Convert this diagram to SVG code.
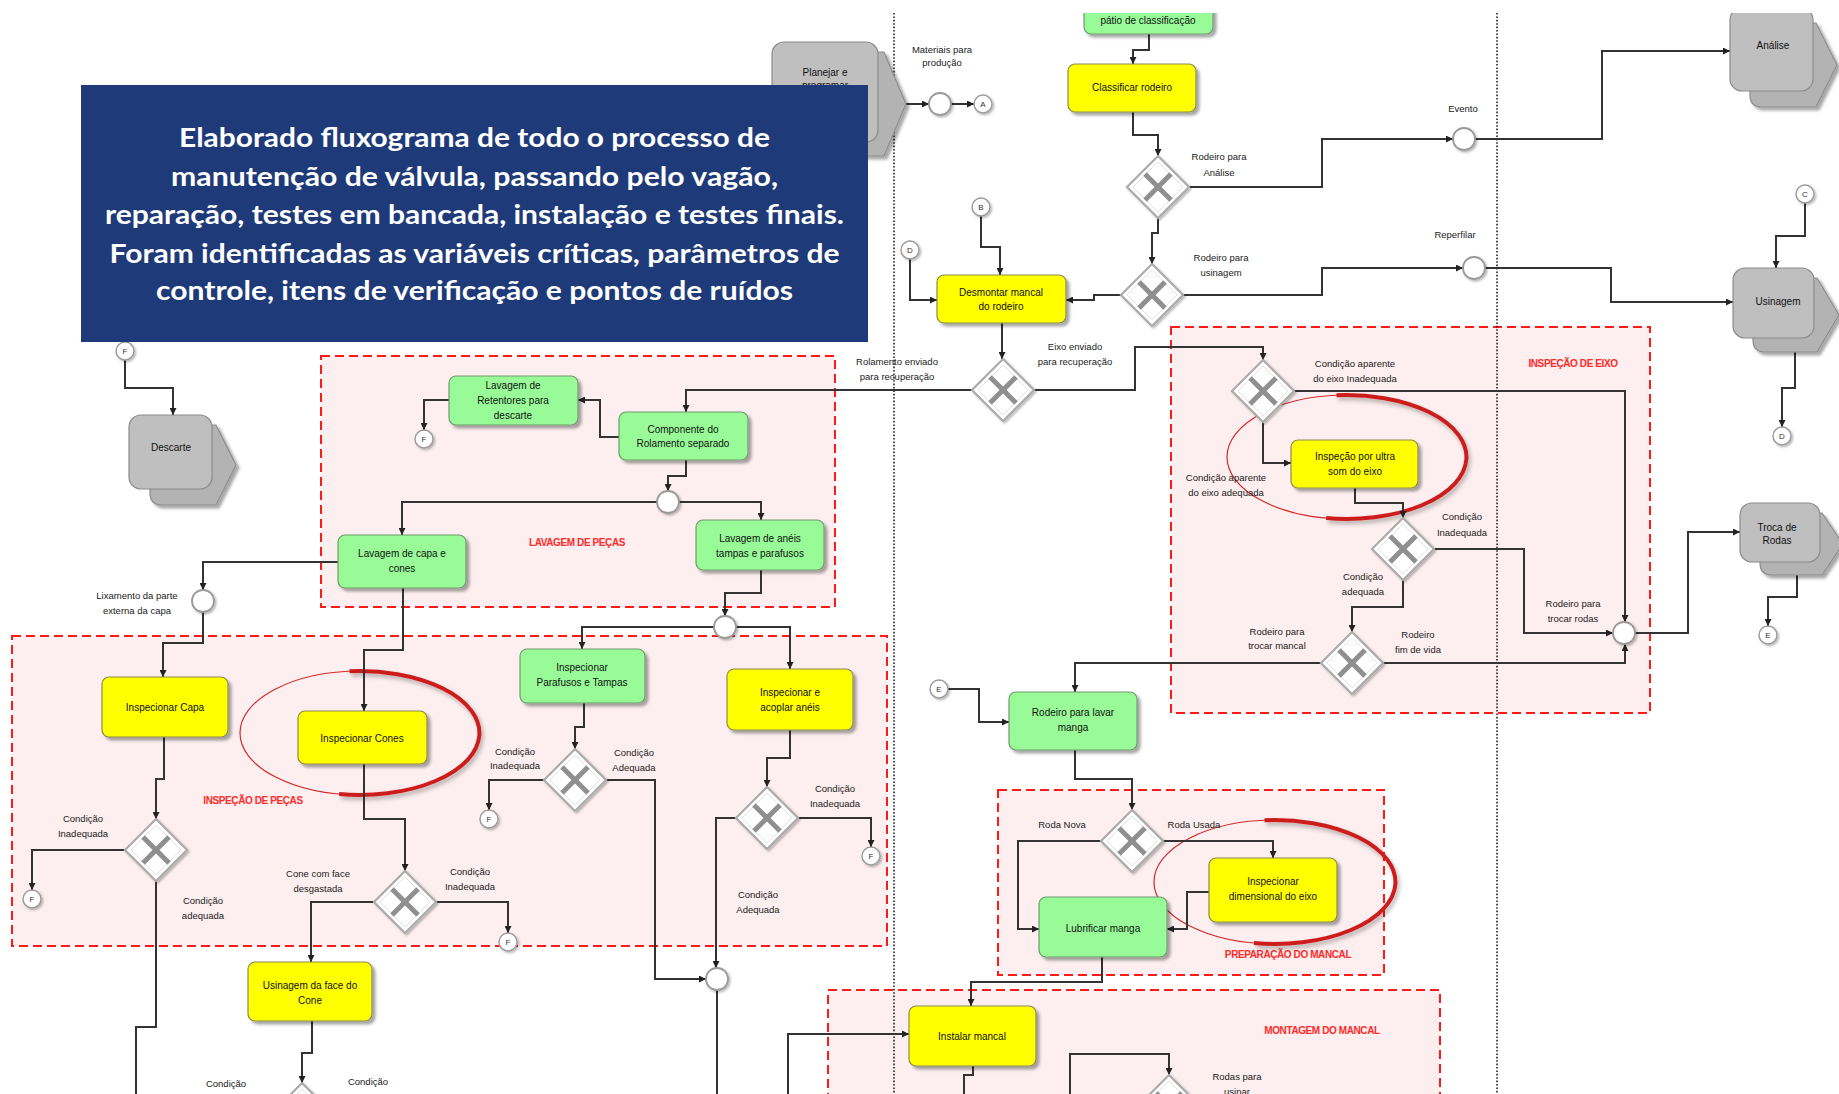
<svg xmlns="http://www.w3.org/2000/svg" xmlns:xlink="http://www.w3.org/1999/xlink" width="1839" height="1094" viewBox="0 0 1839 1094">
<style>
text{font-family:"Liberation Sans",Arial,sans-serif;}
.t{font-size:10px;fill:#111;text-anchor:middle;}
.lb{font-size:9.5px;fill:#222;text-anchor:middle;}
.lt{font-size:8px;fill:#333;text-anchor:middle;}
.rg{fill:#fdefef;stroke:#ff1a1a;stroke-width:2;stroke-dasharray:9 5;}
.rl{font-size:10px;font-weight:bold;fill:#ff2a2a;text-anchor:middle;letter-spacing:-0.4px;}
.y{fill:#ffff00;stroke:#8a8a50;stroke-width:1.2;filter:url(#sh);}
.g{fill:#98fb98;stroke:#6f9a6f;stroke-width:1.2;filter:url(#sh);}
.pf{fill:#bfbfbf;stroke:#8c8c8c;stroke-width:1.2;}
.pb{fill:#b3b3b3;stroke:#8c8c8c;stroke-width:1.2;}
.ev{fill:#fff;stroke:#9a9a9a;stroke-width:1.8;filter:url(#sh2);}
.lc{fill:#fff;stroke:#9a9a9a;stroke-width:1.4;filter:url(#sh2);}
.c{fill:none;stroke:#333;stroke-width:2;marker-end:url(#ar);}
.cn{fill:none;stroke:#333;stroke-width:2;}
.dl{stroke:#222;stroke-width:1.6;stroke-dasharray:1.6 1.8;}
.el{fill:none;stroke:#d42a2a;stroke-width:1.2;}
.et{fill:none;stroke:#cc1f1f;stroke-width:4;filter:url(#sh3);}
.bt{font-family:Lato,"Open Sans",sans-serif;font-weight:bold;font-size:26px;fill:#fff;text-anchor:middle;}
</style>
<defs>
<filter id="sh" x="-20%" y="-20%" width="150%" height="150%"><feDropShadow dx="3" dy="3" stdDeviation="1.6" flood-color="#000" flood-opacity="0.35"/></filter>
<filter id="sh2" x="-30%" y="-30%" width="170%" height="170%"><feDropShadow dx="1.5" dy="1.5" stdDeviation="1" flood-color="#000" flood-opacity="0.3"/></filter>
<filter id="sh3" x="-10%" y="-10%" width="130%" height="130%"><feDropShadow dx="2" dy="3" stdDeviation="2" flood-color="#000" flood-opacity="0.3"/></filter>
<marker id="ar" markerUnits="userSpaceOnUse" markerWidth="8" markerHeight="7" refX="7" refY="3.5" orient="auto"><path d="M0,0 L7,3.5 L0,7 z" fill="#222"/></marker>
<g id="gw">
<polygon points="0,-31 31,0 0,31 -31,0" fill="#fff" stroke="#ababab" stroke-width="2.2" filter="url(#sh2)"/>
<polygon points="0,-25 25,0 0,25 -25,0" fill="none" stroke="#e2e2e2" stroke-width="1"/>
<line x1="-13" y1="-13" x2="13" y2="13" stroke="#8f8f8f" stroke-width="5"/>
<line x1="13" y1="-13" x2="-13" y2="13" stroke="#8f8f8f" stroke-width="5"/>
</g>
</defs>
<rect width="1839" height="1094" fill="#fff"/>

<g id="regions">
<rect class="rg" x="321" y="356" width="514" height="251"/>
<rect class="rg" x="12" y="636" width="875" height="310"/>
<rect class="rg" x="1171" y="327" width="479" height="386"/>
<rect class="rg" x="998" y="790" width="386" height="185"/>
<rect class="rg" x="828" y="990" width="612" height="130"/>
<text class="rl" x="577" y="546">LAVAGEM DE PEÇAS</text>
<text class="rl" x="253" y="804">INSPEÇÃO DE PEÇAS</text>
<text class="rl" x="1573" y="367">INSPEÇÃO DE EIXO</text>
<text class="rl" x="1288" y="958">PREPARAÇÃO DO MANCAL</text>
<text class="rl" x="1322" y="1034">MONTAGEM DO MANCAL</text>
</g>

<g id="lanes">
<line class="dl" x1="894" y1="13" x2="894" y2="1094"/>
<line class="dl" x1="1497" y1="13" x2="1497" y2="1094"/>
</g>

<g id="highlights">
<ellipse class="el" cx="360" cy="733" rx="120" ry="62"/>
<path class="et" d="M349.5,671.2 A120,62 0 1 1 339.2,794.1"/>
<ellipse class="el" cx="1347" cy="457" rx="120" ry="62"/>
<path class="et" d="M1336.5,395.2 A120,62 0 1 1 1326.2,518.1"/>
<ellipse class="el" cx="1275" cy="882" rx="121" ry="62"/>
<path class="et" d="M1264.5,820.2 A121,62 0 1 1 1254,943.1"/>
</g>

<g id="connectors">
<path class="c" d="M906,104 H929"/>
<path class="c" d="M951,104 H974"/>
<path class="c" d="M1149,34 V50 H1133 V64"/>
<path class="c" d="M1133,112 V135 H1158 V156"/>
<path class="c" d="M1189,187 H1322 V139 H1453"/>
<path class="c" d="M1475,139 H1602 V51 H1730"/>
<path class="c" d="M1158,218 V233 H1152 V264"/>
<path class="c" d="M1183,295 H1322 V268 H1463"/>
<path class="c" d="M1485,268 H1611 V302 H1733"/>
<path class="c" d="M1805,203 V236 H1776 V268"/>
<path class="c" d="M1795,352 V388 H1782 V427"/>
<path class="c" d="M1121,295 H1094 V300 H1066"/>
<path class="c" d="M981,216 V247 H1000 V275"/>
<path class="c" d="M910,259 V300 H937"/>
<path class="c" d="M1002,323 V359"/>
<path class="c" d="M972,390 H686 V412"/>
<path class="c" d="M1034,390 H1135 V347 H1263 V360"/>
<path class="c" d="M1294,391 H1625 V622"/>
<path class="c" d="M1263,422 V463 H1291"/>
<path class="c" d="M1355,488 V503 H1403 V518"/>
<path class="c" d="M1434,549 H1524 V633 H1613"/>
<path class="c" d="M1403,580 V607 H1352 V632"/>
<path class="c" d="M1383,663 H1625 V644"/>
<path class="c" d="M1321,663 H1075 V692"/>
<path class="c" d="M1635,633 H1688 V532 H1740"/>
<path class="c" d="M1797,575 V597 H1768 V626"/>
<path class="c" d="M948,689 H979 V722 H1009"/>
<path class="c" d="M1075,750 V779 H1132 V810"/>
<path class="c" d="M1101,841 H1018 V929 H1039"/>
<path class="c" d="M1163,841 H1273 V858"/>
<path class="c" d="M1209,892 H1187 V929 H1167"/>
<path class="c" d="M1102,957 V982 H971 V1006"/>
<path class="c" d="M788,1094 V1034 H909"/>
<path class="cn" d="M973,1066 V1075 H964 V1094"/>
<path class="c" d="M1070,1094 V1054 H1169 V1075"/>
<path class="c" d="M125,360 V388 H173 V415"/>
<path class="c" d="M619,437 H600 V400 H578"/>
<path class="c" d="M449,400 H424 V430"/>
<path class="c" d="M686,460 V476 H668 V491"/>
<path class="c" d="M657,502 H402 V535"/>
<path class="c" d="M679,502 H761 V520"/>
<path class="c" d="M338,562 H203 V590"/>
<path class="c" d="M203,612 V643 H163 V677"/>
<path class="c" d="M164,737 V779 H156 V819"/>
<path class="c" d="M125,850 H32 V890"/>
<path class="cn" d="M156,881 V1027 H136 V1094"/>
<path class="c" d="M403,588 V650 H364 V711"/>
<path class="c" d="M364,764 V819 H405 V871"/>
<path class="c" d="M374,902 H311 V962"/>
<path class="c" d="M436,902 H508 V933"/>
<path class="c" d="M312,1021 V1053 H302 V1083"/>
<path class="c" d="M761,570 V593 H725 V616"/>
<path class="c" d="M714,627 H582 V649"/>
<path class="c" d="M736,627 H790 V669"/>
<path class="c" d="M584,703 V727 H575 V749"/>
<path class="c" d="M544,780 H489 V810"/>
<path class="c" d="M606,780 H655 V979 H706"/>
<path class="c" d="M790,730 V758 H767 V787"/>
<path class="c" d="M798,818 H871 V847"/>
<path class="c" d="M736,818 H716 V968"/>
<path class="cn" d="M717,990 V1094"/>
</g>

<g id="labels">
<text class="lb" x="942" y="53">Materiais para</text><text class="lb" x="942" y="66">produção</text>
<text class="lb" x="1219" y="160">Rodeiro  para</text><text class="lb" x="1219" y="176">Análise</text>
<text class="lb" x="1221" y="261">Rodeiro para</text><text class="lb" x="1221" y="276">usinagem</text>
<text class="lb" x="1463" y="112">Evento</text>
<text class="lb" x="1455" y="238">Reperfilar</text>
<text class="lb" x="897" y="365">Rolamento enviado</text><text class="lb" x="897" y="380">para recuperação</text>
<text class="lb" x="1075" y="350">Eixo enviado</text><text class="lb" x="1075" y="365">para recuperação</text>
<text class="lb" x="1355" y="367">Condição aparente</text><text class="lb" x="1355" y="382">do eixo Inadequada</text>
<text class="lb" x="1226" y="481">Condição aparente</text><text class="lb" x="1226" y="496">do eixo adequada</text>
<text class="lb" x="1462" y="520">Condição</text><text class="lb" x="1462" y="536">Inadequada</text>
<text class="lb" x="1363" y="580">Condição</text><text class="lb" x="1363" y="595">adequada</text>
<text class="lb" x="1573" y="607">Rodeiro para</text><text class="lb" x="1573" y="622">trocar rodas</text>
<text class="lb" x="1277" y="635">Rodeiro para</text><text class="lb" x="1277" y="649">trocar mancal</text>
<text class="lb" x="1418" y="638">Rodeiro</text><text class="lb" x="1418" y="653">fim de vida</text>
<text class="lb" x="1062" y="828">Roda Nova</text>
<text class="lb" x="1194" y="828">Roda Usada</text>
<text class="lb" x="1237" y="1080">Rodas para</text><text class="lb" x="1237" y="1095">usinar</text>
<text class="lb" x="137" y="599">Lixamento da parte</text><text class="lb" x="137" y="614">externa da capa</text>
<text class="lb" x="83" y="822">Condição</text><text class="lb" x="83" y="837">Inadequada</text>
<text class="lb" x="203" y="904">Condição</text><text class="lb" x="203" y="919">adequada</text>
<text class="lb" x="318" y="877">Cone com face</text><text class="lb" x="318" y="892">desgastada</text>
<text class="lb" x="470" y="875">Condição</text><text class="lb" x="470" y="890">Inadequada</text>
<text class="lb" x="515" y="755">Condição</text><text class="lb" x="515" y="769">Inadequada</text>
<text class="lb" x="634" y="756">Condição</text><text class="lb" x="634" y="771">Adequada</text>
<text class="lb" x="835" y="792">Condição</text><text class="lb" x="835" y="807">Inadequada</text>
<text class="lb" x="758" y="898">Condição</text><text class="lb" x="758" y="913">Adequada</text>
<text class="lb" x="226" y="1087">Condição</text>
<text class="lb" x="368" y="1085">Condição</text>
</g>

<g id="n-planejar">
<path class="pb" d="M804,52 H884 L906,104 L884,156 H804 Q792,156 792,144 V64 Q792,52 804,52 Z" filter="url(#sh)"/>
<rect class="pf" x="772" y="42" width="106" height="100" rx="12"/>
<text class="t" x="825" y="76">Planejar e</text><text class="t" x="825" y="89">programar</text>
</g>
<g id="n-descarte">
<path class="pb" d="M162,425 H216 L236,465 L216,505 H162 Q150,505 150,493 V437 Q150,425 162,425 Z" filter="url(#sh)"/>
<rect class="pf" x="129" y="415" width="83" height="74" rx="12"/>
<text class="t" x="171" y="451">Descarte</text>
</g>
<g id="n-analise">
<path class="pb" d="M1762,23 H1816 L1837,65 L1816,107 H1762 Q1750,107 1750,95 V35 Q1750,23 1762,23 Z" filter="url(#sh)"/>
<rect class="pf" x="1730" y="8" width="83" height="83" rx="12"/>
<text class="t" x="1773" y="49">Análise</text>
</g>
<g id="n-usinagem">
<path class="pb" d="M1765,278 H1817 L1839,315 L1817,352 H1765 Q1753,352 1753,340 V290 Q1753,278 1765,278 Z" filter="url(#sh)"/>
<rect class="pf" x="1733" y="268" width="81" height="70" rx="12"/>
<text class="t" x="1778" y="305">Usinagem</text>
</g>
<g id="n-troca">
<path class="pb" d="M1772,513 H1822 L1843,544 L1822,575 H1772 Q1760,575 1760,563 V525 Q1760,513 1772,513 Z" filter="url(#sh)"/>
<rect class="pf" x="1740" y="503" width="80" height="59" rx="12"/>
<text class="t" x="1777" y="531">Troca de</text><text class="t" x="1777" y="544">Rodas</text>
</g>

<g id="n-patio"><rect class="g" x="1084" y="-20" width="129" height="54" rx="7"/><text class="t" x="1148" y="24">pátio de classificação</text></g>
<g id="n-classificar"><rect class="y" x="1068" y="64" width="128" height="48" rx="7"/><text class="t" x="1132" y="91">Classificar rodeiro</text></g>
<g id="n-desmontar"><rect class="y" x="937" y="275" width="129" height="48" rx="7"/><text class="t" x="1001" y="296">Desmontar mancal</text><text class="t" x="1001" y="310">do rodeiro</text></g>
<g id="n-retentores"><rect class="g" x="449" y="376" width="129" height="49" rx="7"/><text class="t" x="513" y="389">Lavagem de</text><text class="t" x="513" y="404">Retentores para</text><text class="t" x="513" y="419">descarte</text></g>
<g id="n-componente"><rect class="g" x="619" y="412" width="129" height="48" rx="7"/><text class="t" x="683" y="433">Componente do</text><text class="t" x="683" y="447">Rolamento separado</text></g>
<g id="n-lavcapa"><rect class="g" x="338" y="535" width="128" height="53" rx="7"/><text class="t" x="402" y="557">Lavagem de capa e</text><text class="t" x="402" y="572">cones</text></g>
<g id="n-lavaneis"><rect class="g" x="696" y="520" width="128" height="50" rx="7"/><text class="t" x="760" y="542">Lavagem de anéis</text><text class="t" x="760" y="557">tampas e parafusos</text></g>
<g id="n-inspcapa"><rect class="y" x="102" y="677" width="126" height="60" rx="7"/><text class="t" x="165" y="711">Inspecionar Capa</text></g>
<g id="n-inspcones"><rect class="y" x="298" y="711" width="129" height="53" rx="7"/><text class="t" x="362" y="742">Inspecionar Cones</text></g>
<g id="n-usinface"><rect class="y" x="248" y="962" width="124" height="59" rx="7"/><text class="t" x="310" y="989">Usinagem da face do</text><text class="t" x="310" y="1004">Cone</text></g>
<g id="n-insppar"><rect class="g" x="520" y="649" width="125" height="54" rx="7"/><text class="t" x="582" y="671">Inspecionar</text><text class="t" x="582" y="686">Parafusos e Tampas</text></g>
<g id="n-inspacop"><rect class="y" x="727" y="669" width="126" height="61" rx="7"/><text class="t" x="790" y="696">Inspecionar e</text><text class="t" x="790" y="711">acoplar anéis</text></g>
<g id="n-ultra"><rect class="y" x="1291" y="440" width="127" height="48" rx="7"/><text class="t" x="1355" y="460">Inspeção por ultra</text><text class="t" x="1355" y="475">som do eixo</text></g>
<g id="n-lavmanga"><rect class="g" x="1009" y="692" width="128" height="58" rx="7"/><text class="t" x="1073" y="716">Rodeiro  para lavar</text><text class="t" x="1073" y="731">manga</text></g>
<g id="n-lubrificar"><rect class="g" x="1039" y="897" width="128" height="60" rx="7"/><text class="t" x="1103" y="932">Lubrificar manga</text></g>
<g id="n-dimensional"><rect class="y" x="1209" y="858" width="128" height="64" rx="7"/><text class="t" x="1273" y="885">Inspecionar</text><text class="t" x="1273" y="900">dimensional do eixo</text></g>
<g id="n-instalar"><rect class="y" x="909" y="1006" width="127" height="60" rx="7"/><text class="t" x="972" y="1040">Instalar mancal</text></g>

<g id="gateways">
<use xlink:href="#gw" x="1158" y="187"/>
<use xlink:href="#gw" x="1152" y="295"/>
<use xlink:href="#gw" x="1003" y="390"/>
<use xlink:href="#gw" x="1263" y="391"/>
<use xlink:href="#gw" x="1403" y="549"/>
<use xlink:href="#gw" x="1352" y="663"/>
<use xlink:href="#gw" x="1132" y="841"/>
<use xlink:href="#gw" x="156" y="850"/>
<use xlink:href="#gw" x="405" y="902"/>
<use xlink:href="#gw" x="575" y="780"/>
<use xlink:href="#gw" x="767" y="818"/>
<use xlink:href="#gw" x="302" y="1114"/>
<use xlink:href="#gw" x="1169" y="1106"/>
</g>

<g id="events">
<circle class="ev" cx="940" cy="104" r="11"/>
<circle class="ev" cx="1464" cy="139" r="11"/>
<circle class="ev" cx="1474" cy="268" r="11"/>
<circle class="ev" cx="1624" cy="633" r="11"/>
<circle class="ev" cx="668" cy="502" r="11"/>
<circle class="ev" cx="203" cy="601" r="11"/>
<circle class="ev" cx="725" cy="627" r="11"/>
<circle class="ev" cx="717" cy="979" r="11"/>
</g>

<g id="connectors-refs">
<circle class="lc" cx="983" cy="104" r="9"/><text class="lt" x="983" y="107">A</text>
<circle class="lc" cx="981" cy="207" r="9"/><text class="lt" x="981" y="210">B</text>
<circle class="lc" cx="1805" cy="194" r="9"/><text class="lt" x="1805" y="197">C</text>
<circle class="lc" cx="910" cy="250" r="9"/><text class="lt" x="910" y="253">D</text>
<circle class="lc" cx="1782" cy="436" r="9"/><text class="lt" x="1782" y="439">D</text>
<circle class="lc" cx="939" cy="689" r="9"/><text class="lt" x="939" y="692">E</text>
<circle class="lc" cx="1768" cy="635" r="9"/><text class="lt" x="1768" y="638">E</text>
<circle class="lc" cx="125" cy="351" r="9"/><text class="lt" x="125" y="354">F</text>
<circle class="lc" cx="424" cy="439" r="9"/><text class="lt" x="424" y="442">F</text>
<circle class="lc" cx="32" cy="899" r="9"/><text class="lt" x="32" y="902">F</text>
<circle class="lc" cx="489" cy="819" r="9"/><text class="lt" x="489" y="822">F</text>
<circle class="lc" cx="508" cy="942" r="9"/><text class="lt" x="508" y="945">F</text>
<circle class="lc" cx="871" cy="856" r="9"/><text class="lt" x="871" y="859">F</text>
</g>

<rect x="0" y="0" width="1839" height="13" fill="#fff"/>

<g id="callout">
<rect x="81" y="85" width="787" height="257" fill="#1f3a78"/>
<text class="bt" x="474.5" y="147" textLength="591" lengthAdjust="spacingAndGlyphs">Elaborado fluxograma de todo o processo de</text>
<text class="bt" x="474.5" y="186" textLength="607" lengthAdjust="spacingAndGlyphs">manutenção de válvula, passando pelo vagão,</text>
<text class="bt" x="474.5" y="224" textLength="739" lengthAdjust="spacingAndGlyphs">reparação, testes em bancada, instalação e testes finais.</text>
<text class="bt" x="474.5" y="263" textLength="730" lengthAdjust="spacingAndGlyphs">Foram identificadas as variáveis críticas, parâmetros de</text>
<text class="bt" x="474.5" y="300" textLength="637" lengthAdjust="spacingAndGlyphs">controle, itens de verificação e pontos de ruídos</text>
</g>
</svg>
